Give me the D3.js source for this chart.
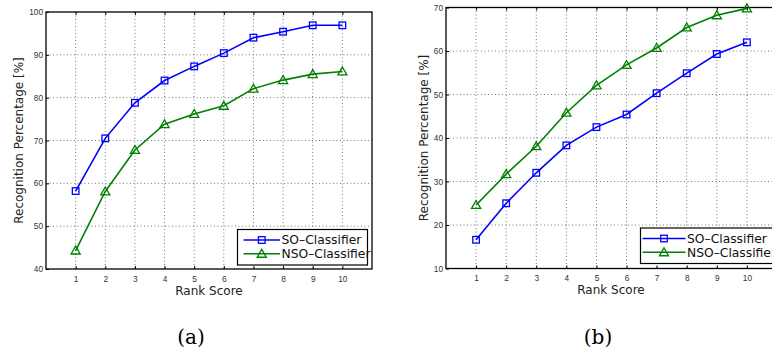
<!DOCTYPE html>
<html><head><meta charset="utf-8">
<script src="https://cdn.jsdelivr.net/npm/d3@7"></script>
<style>
html,body{margin:0;padding:0;background:#fff;}
svg{display:block;}
text{font-family:"Liberation Sans",Arial,sans-serif;fill:#222;}
</style></head>
<body>
<svg id="c" width="772" height="360"></svg>
<script>
const ranks = [1,2,3,4,5,6,7,8,9,10];
const xTicks = [1,2,3,4,5,6,7,8,9,10];
const seriesNames = ["SO\u2013Classifier","NSO\u2013Classifier"];
const aSO  = [58.2,70.5,78.8,84.0,87.3,90.4,94.0,95.4,96.9,96.9];
const aNSO = [44.3,58.1,67.8,73.8,76.2,78.1,82.1,84.1,85.5,86.1];
const bSO  = [16.6,25.0,32.0,38.3,42.5,45.4,50.3,54.9,59.3,62.0];
const bNSO = [24.6,31.7,38.1,45.8,52.1,56.8,60.7,65.4,68.2,69.8];
const aYTicks = [40,50,60,70,80,90,100];
const bYTicks = [10,20,30,40,50,60,70];
const xLabel = "Rank Score";
const yLabel = "Recognition Percentage [%]";
const captions = ["(a)","(b)"];

const svg = d3.select("#c");
const colors = ["#0000ff","#008000"];
const labelFont = "'DejaVu Sans', Verdana, sans-serif";

function panel(cfg){
  const g = svg.append("g");
  const x = d3.scaleLinear().domain([0,11]).range([cfg.x0, cfg.x1]);
  const y = d3.scaleLinear().domain(cfg.yDomain).range([cfg.y1, cfg.y0]);
  // grid
  g.append("g").selectAll("line").data(cfg.yTicks.slice(1,-1)).join("line")
    .attr("x1",cfg.x0).attr("x2",cfg.x1).attr("y1",d=>y(d)).attr("y2",d=>y(d))
    .attr("stroke","#555").attr("stroke-width",0.8).attr("stroke-dasharray","1,2.5");
  g.append("g").selectAll("line").data(xTicks).join("line")
    .attr("y1",cfg.y0).attr("y2",cfg.y1).attr("x1",d=>x(d)).attr("x2",d=>x(d))
    .attr("stroke","#555").attr("stroke-width",0.8).attr("stroke-dasharray","1,2.5");
  // axes
  const xa = d3.axisBottom(x).tickValues(xTicks).tickSize(-3).tickPadding(7).tickFormat(d3.format("d"));
  const gx = g.append("g").attr("transform",`translate(0,${cfg.y1})`).call(xa);
  gx.select(".domain").remove();
  gx.selectAll("line").attr("stroke","#000");
  gx.selectAll("text").attr("font-size",8.3).style("fill","#333").attr("font-family","Liberation Sans, Arial, sans-serif");
  const xt = d3.axisTop(x).tickValues(xTicks).tickSize(-3).tickFormat("");
  const gxt = g.append("g").attr("transform",`translate(0,${cfg.y0})`).call(xt);
  gxt.select(".domain").remove();
  gxt.selectAll("line").attr("stroke","#000");
  const ya = d3.axisLeft(y).tickValues(cfg.yTicks).tickSize(-3).tickPadding(3);
  const gy = g.append("g").attr("transform",`translate(${cfg.x0},0)`).call(ya);
  gy.select(".domain").remove();
  gy.selectAll("line").attr("stroke","#000");
  gy.selectAll("text").attr("font-size",8.3).style("fill","#333").attr("font-family","Liberation Sans, Arial, sans-serif");
  // frame
  g.append("rect").attr("x",cfg.x0).attr("y",cfg.y0).attr("width",cfg.x1-cfg.x0).attr("height",cfg.y1-cfg.y0)
    .attr("fill","none").attr("stroke","#000").attr("stroke-width",1.3);
  // labels
  g.append("text").attr("x",cfg.xlc).attr("y",cfg.y1+25.5).attr("text-anchor","middle")
    .style("font-family",labelFont).attr("font-size",12).text(xLabel);
  g.append("text").attr("transform",`translate(${cfg.ylx},${(cfg.y0+cfg.y1)/2}) rotate(-90)`)
    .style("font-family",labelFont).attr("text-anchor","middle").attr("font-size",12).text(yLabel);
  // series
  const line = d3.line().x((d,i)=>x(ranks[i])).y(d=>y(d));
  const data = [cfg.so, cfg.nso];
  const tri = d3.symbol().type(d3.symbolTriangle).size(36);
  data.forEach((vals,si)=>{
    const sg = g.append("g");
    sg.append("path").attr("d",line(vals)).attr("fill","none").attr("stroke",colors[si]).attr("stroke-width",1.6);
    vals.forEach((v,i)=>{
      if(si===0){
        sg.append("rect").attr("x",x(ranks[i])-3.3).attr("y",y(v)-3.3).attr("width",6.6).attr("height",6.6)
          .attr("fill","none").attr("stroke",colors[si]).attr("stroke-width",1.3);
      } else {
        sg.append("path").attr("d",tri).attr("transform",`translate(${x(ranks[i])},${y(v)+0.8})`)
          .attr("fill","none").attr("stroke",colors[si]).attr("stroke-width",1.3);
      }
    });
  });
  // legend
  const lg = g.append("g");
  lg.append("rect").attr("x",cfg.lx).attr("y",cfg.ly).attr("width",cfg.lw).attr("height",35.5)
    .attr("fill","#fff").attr("stroke","#000").attr("stroke-width",1.2);
  seriesNames.forEach((nm,si)=>{
    const yy = cfg.ly + 10.5 + si*13.8;
    lg.append("line").attr("x1",cfg.lx+cfg.l1).attr("x2",cfg.lx+cfg.l2).attr("y1",yy).attr("y2",yy)
      .attr("stroke",colors[si]).attr("stroke-width",1.6);
    const mx = cfg.lx+(cfg.l1+cfg.l2)/2;
    if(si===0){
      lg.append("rect").attr("x",mx-3.3).attr("y",yy-3.3).attr("width",6.6).attr("height",6.6)
        .attr("fill","none").attr("stroke",colors[si]).attr("stroke-width",1.3);
    } else {
      lg.append("path").attr("d",tri).attr("transform",`translate(${mx},${yy+0.8})`)
        .attr("fill","none").attr("stroke",colors[si]).attr("stroke-width",1.3);
    }
    lg.append("text").attr("x",cfg.lx+cfg.l2+1.5).attr("y",yy+4.4)
      .style("font-family",labelFont).attr("font-size",12.3).style("fill","#111").text(nm);
  });
  // caption
  svg.append("text").attr("x",cfg.cx).attr("y",343.5).attr("text-anchor","middle")
    .style("font-family","'DejaVu Serif','Liberation Serif',serif")
    .attr("font-size",20).style("fill","#000").text(cfg.caption);
}

panel({id:"a", x0:46, x1:372, xlc:209, y0:12, y1:269, yDomain:[40,100], yTicks:aYTicks,
  so:aSO, nso:aNSO, lx:237.5, ly:229.5, lw:130, l1:6, l2:42.5, ylx:22.5, cx:191, caption:captions[0]});
panel({id:"b", x0:446, x1:777, xlc:611, y0:7.5, y1:268.5, yDomain:[10,70], yTicks:bYTicks,
  so:bSO, nso:bNSO, lx:640.5, ly:228, lw:140, l1:2, l2:45, ylx:428, cx:598, caption:captions[1]});
</script>
</body></html>
